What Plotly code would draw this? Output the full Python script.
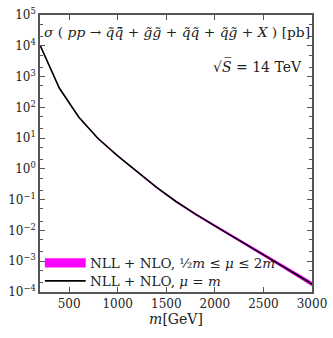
import plotly.graph_objects as go

# squark/gluino total cross section at 14 TeV
mass_gev = [200, 400, 600, 800, 1000, 1200, 1400, 1600, 1800, 2000,
            2200, 2400, 2600, 2800, 3000]
log_sigma = [4.02, 2.62, 1.68, 0.98, 0.42, -0.10, -0.60, -1.06, -1.47, -1.85,
             -2.22, -2.60, -2.98, -3.36, -3.74]
# scale band half-widths in decades (upper, lower)
band_up = [0.025, 0.025, 0.025, 0.025, 0.025, 0.025, 0.03, 0.03, 0.035, 0.04,
           0.045, 0.05, 0.055, 0.065, 0.075]
band_down = [0.025, 0.025, 0.025, 0.025, 0.025, 0.025, 0.03, 0.03, 0.035, 0.04,
             0.045, 0.05, 0.055, 0.06, 0.07]

y_tick_vals = [1e-4, 1e-3, 1e-2, 1e-1, 1, 10, 100, 1e3, 1e4, 1e5]
y_tick_text = ["10<sup>−4</sup>", "10<sup>−3</sup>", "10<sup>−2</sup>",
               "10<sup>−1</sup>", "10<sup>0</sup>", "10<sup>1</sup>",
               "10<sup>2</sup>", "10<sup>3</sup>", "10<sup>4</sup>",
               "10<sup>5</sup>"]
x_tick_vals = [500, 1000, 1500, 2000, 2500, 3000]

sigma = [10 ** v for v in log_sigma]
upper = [10 ** (v + d) for v, d in zip(log_sigma, band_up)]
lower = [10 ** (v - d) for v, d in zip(log_sigma, band_down)]

FONT = "DejaVu Serif"
MAGENTA = "#ff00ff"
FRAME = "#555555"
INK = "#222222"

fig = go.Figure()
fig.add_trace(go.Scatter(x=mass_gev, y=upper, mode="lines",
                         line=dict(width=0, color=MAGENTA),
                         showlegend=False, hoverinfo="skip"))
fig.add_trace(go.Scatter(x=mass_gev, y=lower, mode="lines",
                         line=dict(width=0, color=MAGENTA),
                         fill="tonexty", fillcolor=MAGENTA,
                         showlegend=False, hoverinfo="skip"))
fig.add_trace(go.Scatter(x=mass_gev, y=sigma, mode="lines",
                         line=dict(width=1.6, color="black"),
                         showlegend=False))

axis_common = dict(
    showline=True, linecolor=FRAME, linewidth=1.5, mirror="ticks",
    ticks="inside", tickcolor=FRAME, ticklen=5, showgrid=False,
    zeroline=False, ticklabeloverflow="allow",
)

fig.update_xaxes(range=[200, 3000], tickvals=x_tick_vals,
                 tickfont=dict(family=FONT, size=12, color=INK),
                 title=dict(text="<i>m</i>[GeV]", standoff=4,
                            font=dict(family=FONT, size=14, color=INK)),
                 **axis_common)
fig.update_yaxes(type="log", range=[-4, 5], tickvals=y_tick_vals,
                 ticktext=y_tick_text,
                 tickfont=dict(family=FONT, size=12, color=INK),
                 minor=dict(ticks="inside", ticklen=3, tickcolor=FRAME,
                            showgrid=False),
                 **axis_common)

# hand-drawn legend, lower left inside the frame
fig.add_shape(type="rect", xref="paper", yref="paper",
              x0=0.018, x1=0.168, y0=0.088, y1=0.122,
              fillcolor=MAGENTA, line=dict(width=0))
fig.add_shape(type="line", xref="paper", yref="paper",
              x0=0.018, x1=0.168, y0=0.04, y1=0.04,
              line=dict(color="black", width=1.6))

txt = dict(family=FONT, size=13.5, color=INK)
fig.add_annotation(xref="paper", yref="paper", x=0.178, y=0.106,
                   xanchor="left", yanchor="middle", showarrow=False,
                   text="NLL + NLO, ½<i>m</i> ≤ <i>μ</i> ≤ 2<i>m</i>", font=txt)
fig.add_annotation(xref="paper", yref="paper", x=0.178, y=0.04,
                   xanchor="left", yanchor="middle", showarrow=False,
                   text="NLL + NLO, <i>μ</i> = <i>m</i>", font=txt)
fig.add_annotation(xref="paper", yref="paper", x=1.0, y=0.94,
                   xanchor="right", yanchor="middle", showarrow=False,
                   text="<i>σ</i> ( <i>pp</i> → <i>q̃q̃̄</i> + <i>g̃g̃</i> + "
                        "<i>q̃q̃</i> + <i>q̃g̃</i> + <i>X</i> ) [pb]",
                   font=dict(family=FONT, size=13.8, color=INK))
fig.add_annotation(xref="paper", yref="paper", x=0.97, y=0.815,
                   xanchor="right", yanchor="middle", showarrow=False,
                   text="√<i>S̅</i> = 14 TeV", font=dict(family=FONT, size=14,
                                                        color=INK))

fig.update_layout(
    width=333, height=338,
    margin=dict(l=40, r=14, t=6, b=46),
    plot_bgcolor="white", paper_bgcolor="white",
    showlegend=False,
)

# page body has a default 8px margin; drop it so the figure fills the window
fig.write_html("out.html", config={"displayModeBar": False},
               post_script="document.body.style.margin='0';")
